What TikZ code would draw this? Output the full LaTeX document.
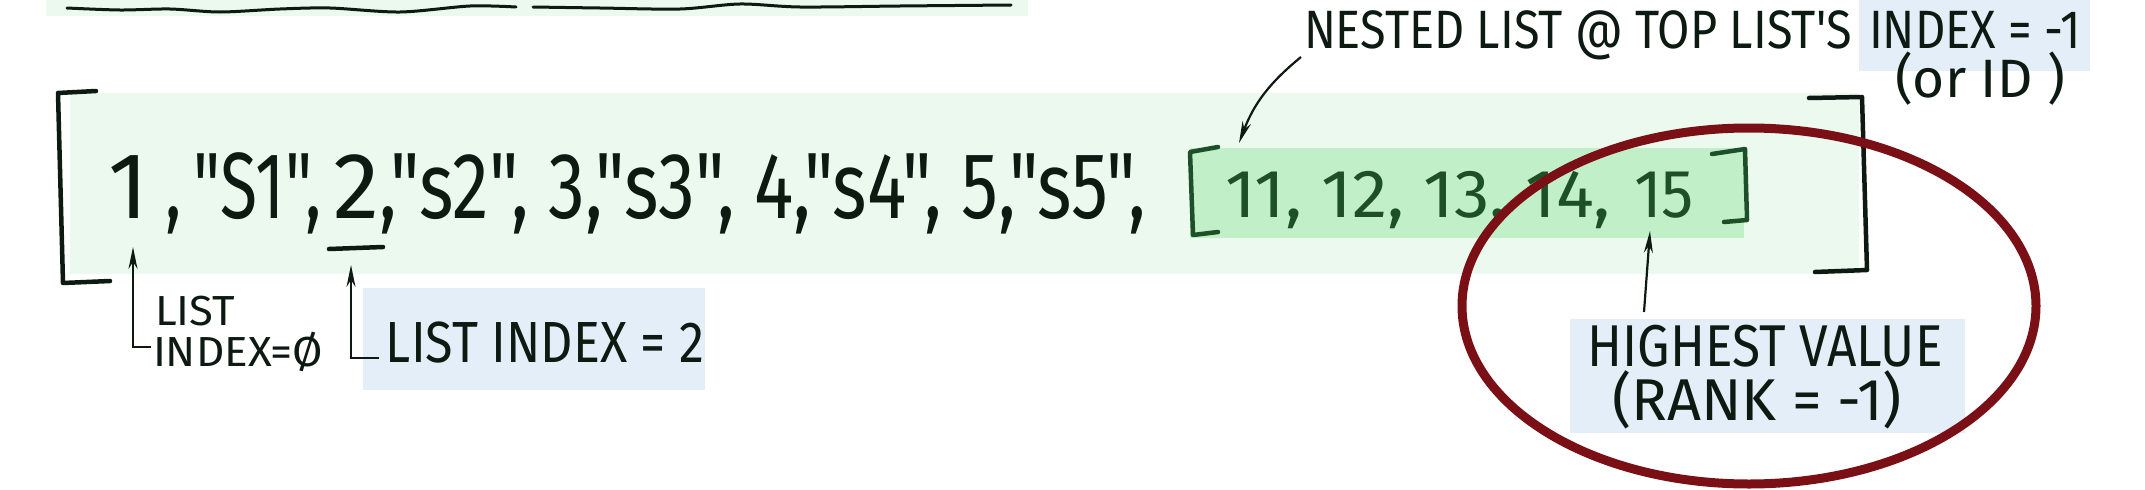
\documentclass[tikz,border=0pt]{standalone}
\usepackage{fontspec}
\newfontfamily\hand{Fira Sans}
\usetikzlibrary{arrows.meta}
\definecolor{bgg}{HTML}{EBF9EE}
\definecolor{nestg}{HTML}{C0EFC8}
\definecolor{hlblue}{HTML}{E4EEF8}
\definecolor{redc}{HTML}{7A1016}
\definecolor{ink}{HTML}{0C1A12}
\definecolor{dgreen}{HTML}{1E5028}
\newcommand{\fitw}[2]{\resizebox{#1}{\height}{#2}}
\tikzset{
  txt/.style={inner sep=0pt, outer sep=0pt, anchor=base, text=ink},
  brk/.style={draw=ink, line width=4.5pt, line join=round, line cap=round},
  nbrk/.style={draw=dgreen, line width=4.5pt, line join=round, line cap=round},
  arr/.style={draw=ink, line width=2.2pt, -{Stealth[length=22pt,width=9pt]}},
  wavy/.style={draw=ink, line width=3pt, line cap=round},
}
\begin{document}
\begin{tikzpicture}[x=1pt,y=-1pt]
\useasboundingbox (0,0) rectangle (2145,490);
% backgrounds
\fill[bgg] (46,0) rectangle (1028,16);
\fill[bgg] (70,93) rectangle (1859,274);
\fill[nestg] (1190,148) rectangle (1744,238);
\fill[hlblue] (1859,0) rectangle (2090,71);
\fill[hlblue] (363,288) rectangle (705,390);
\fill[hlblue] (1570,319) rectangle (1965,433);
% top wavy lines
\draw[wavy] plot[smooth] coordinates {(67,8) (120,10) (170,9) (220,12) (280,9) (330,8) (400,12) (470,6) (516,7)};
\draw[wavy] plot[smooth] coordinates {(533,7) (600,8) (680,9) (740,4) (800,7) (900,6) (1011,5)};
% main brackets
\draw[brk] (96,91) -- (58,93) -- (63,283) -- (110,281);
\draw[brk] (1809,98) -- (1862,97) -- (1867,270) -- (1815,272);
% nested brackets
\draw[nbrk] (1218,147) -- (1190,152) -- (1193,235) -- (1218,232);
\draw[nbrk] (1712,154) -- (1745,149) -- (1747,220) -- (1724,222);
% main list text
\node[txt, font=\hand\fontsize{94}{100}\selectfont] (n1) at (128,218) {\fitw{40pt}{1}};
\node[txt, font=\hand\fontsize{94}{100}\selectfont] (s1) at (244,218) {\fitw{156pt}{,\,"S1",}};
\node[txt, font=\hand\fontsize{94}{100}\selectfont] (n2) at (356,218) {\fitw{46pt}{2}};
\node[txt, font=\hand\fontsize{94}{100}\selectfont] (rest) at (763,218) {\fitw{766pt}{,"s2", 3,"s3", 4,"s4", 5,"s5",}};
\draw[brk] ([shift={(-27,31)}]n2.base) -- ([shift={(27,29)}]n2.base);
% nested list text
\node[txt, text=dgreen, font=\hand\fontsize{68}{72}\selectfont] (nest) at (1418,217) {\fitw{386pt}{11, 12, 13, 14,}};
\node[txt, text=dgreen, font=\hand\fontsize{68}{72}\selectfont] (n15) at (1664,217) {\fitw{60pt}{15}};
% top annotation
\node[txt, font=\hand\fontsize{54}{58}\selectfont] (nt1) at (1578,48) {\fitw{548pt}{NESTED LIST @ TOP LIST'S}};
\node[txt, font=\hand\fontsize{54}{58}\selectfont] (nt2) at (1975,48) {\fitw{212pt}{INDEX = -1}};
\node[txt, font=\hand\fontsize{54}{58}\selectfont] (nt3) at (1980,97) {\fitw{170pt}{(or ID )}};
\coordinate (nta) at (1301,57);
\coordinate (ntb) at (1239,143);
\draw[arr] (nta) to[bend right=15] (ntb);
% list index 0
\node[txt, anchor=base west, font=\hand\fontsize{42}{48}\selectfont] (l0a) at (155,325) {\fitw{80pt}{LIST}};
\node[txt, anchor=base west, font=\hand\fontsize{42}{48}\selectfont] (l0b) at (153,366) {\fitw{170pt}{INDEX=Ø}};
\coordinate (c1) at (151,347);
\coordinate (tip1) at (133,247);
\draw[arr] (c1) -| (tip1);
% list index 2
\node[txt, font=\hand\fontsize{58}{62}\selectfont] (l2) at (545,362) {\fitw{318pt}{LIST INDEX = 2}};
\coordinate (c2) at (379,358);
\coordinate (tip2) at (351,265);
\draw[arr] (c2) -| (tip2);
% highest value
\node[txt, font=\hand\fontsize{59}{66}\selectfont] (hv1) at (1765,366) {\fitw{355pt}{HIGHEST VALUE}};
\node[txt, font=\hand\fontsize{59}{66}\selectfont] (hv2) at (1757,420) {\fitw{290pt}{(RANK = -1)}};
\coordinate (hva) at (1644,312);
\coordinate (hvb) at (1650,231);
\draw[arr] (hva) -- (hvb);
% red ellipse
\draw[redc, line width=9pt] (1749,306) ellipse [x radius=287pt, y radius=178pt];
\end{tikzpicture}
\end{document}
